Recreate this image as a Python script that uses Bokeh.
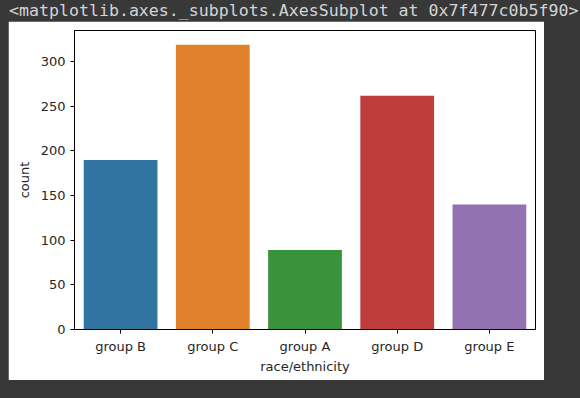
from bokeh.plotting import figure
from bokeh.models import Div, FactorRange, Range1d, FixedTicker, ColumnDataSource, Spacer
from bokeh.layouts import column, row
from bokeh.embed import file_html
from bokeh.resources import INLINE

# data
categories = ["group B", "group C", "group A", "group D", "group E"]
counts = [190, 319, 89, 262, 140]
colors = ["#3274a1", "#e1812c", "#3a923a", "#c03d3e", "#9372b2"]
y_ticks = [0, 50, 100, 150, 200, 250, 300]
header_text = "&lt;matplotlib.axes._subplots.AxesSubplot at 0x7f477c0b5f90&gt;"

BG = "#383838"

src = ColumnDataSource(dict(cat=categories, count=counts, color=colors))

p = figure(
    x_range=FactorRange(*categories, range_padding=0),
    y_range=Range1d(0, 335),
    width=536, height=359,
    output_backend="svg", toolbar_location=None,
    min_border_left=66, min_border_right=9, min_border_top=9, min_border_bottom=51,
)
p.vbar(x="cat", top="count", width=0.8, fill_color="color", line_color=None, source=src)

p.background_fill_color = "white"
p.border_fill_color = "white"
p.outline_line_color = "black"
p.outline_line_width = 1
p.xgrid.visible = False
p.ygrid.visible = False

for ax in (p.xaxis[0], p.yaxis[0]):
    ax.axis_line_color = "black"
    ax.major_tick_line_color = "black"
    ax.major_tick_out = 4
    ax.major_tick_in = 0
    ax.minor_tick_line_color = None
    ax.major_label_text_font = "DejaVu Sans"
    ax.major_label_text_font_size = "13px"
    ax.major_label_text_color = "#262626"
    ax.axis_label_text_font = "DejaVu Sans"
    ax.axis_label_text_font_size = "13px"
    ax.axis_label_text_font_style = "normal"
    ax.axis_label_text_color = "#262626"
    ax.major_label_standoff = 5

p.yaxis[0].ticker = FixedTicker(ticks=y_ticks)
p.yaxis[0].axis_label = "count"
p.yaxis[0].axis_label_standoff = 6
p.xaxis[0].axis_label = "race/ethnicity"
p.xaxis[0].axis_label_standoff = 2

header = Div(
    text='<div style="padding-left:9px; padding-top:1px; white-space:nowrap; color:#d4d4d4; '
         'font-family:\'DejaVu Sans Mono\', monospace; font-size:16.6px; line-height:19px;">'
         + header_text + '</div>',
    width=580, height=21, margin=0,
    styles={"background-color": BG},
)

body = row(Spacer(width=8, height=359, margin=0, styles={"background-color": BG}), p,
           Spacer(width=36, height=359, margin=0, styles={"background-color": BG}), spacing=0)
bottom = Spacer(width=580, height=18, margin=0, styles={"background-color": BG})

layout = column(header, body, bottom, spacing=0, styles={"background-color": BG})

html = file_html(layout, INLINE)
html = html.replace("</head>",
                    "<style>html, body { background-color: #383838 !important; }</style></head>", 1)
open("out.html", "w").write(html)
